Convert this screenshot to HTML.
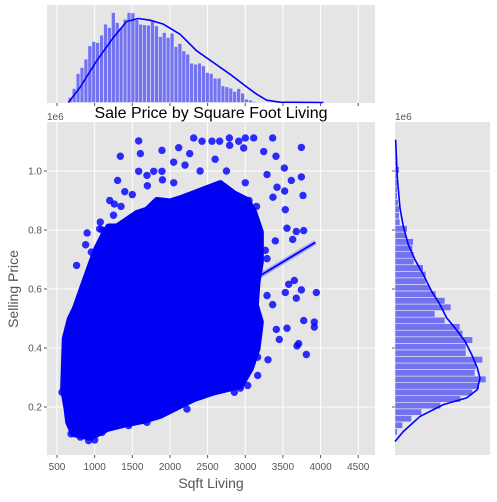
<!DOCTYPE html>
<html><head><meta charset="utf-8">
<style>
html,body{margin:0;padding:0;background:#fff;}
svg text{font-family:"Liberation Sans",sans-serif;}
</style></head>
<body>
<svg id="chart" width="497" height="497" xmlns="http://www.w3.org/2000/svg">
</svg>
<script>
// ---- data ----
const xTicks = [500,1000,1500,2000,2500,3000,3500,4000,4500];
const yTicks = [0.2,0.4,0.6,0.8,1.0];
const yTickLabels = ["0.2","0.4","0.6","0.8","1.0"];
// dense scatter region outline (sqft, price in millions)
const blobSqft = [610,677,743,854,965,1031,1120,1186,1297,1430,1562,1695,1828,2005,2138,2315,2492,2669,2846,3023,3112,3200,3200,3156,3134,3200,3156,3067,2935,2758,2581,2315,2138,1872,1651,1430,1164,943,721,655,633,588];
const blobPrice = [0.432,0.499,0.533,0.613,0.692,0.737,0.782,0.81,0.81,0.833,0.856,0.867,0.90,0.895,0.906,0.923,0.94,0.957,0.923,0.90,0.86,0.793,0.691,0.624,0.545,0.488,0.398,0.330,0.273,0.262,0.251,0.228,0.206,0.172,0.155,0.144,0.127,0.098,0.110,0.149,0.194,0.262];
// individual outlier points
const ptSqft = [1584,1341,1607,1894,2315,2426,2558,2660,2789,2913,3001,3112,3364,3745,2116,2262,2049,2793,2979,3245,3408,3519,3745,1305,1584,1894,1784,1695,3289,3612,3422,3523,3767,3368,1261,3532,3678,3776,3554,3630,3399,956,1075,1066,3267,3289,3652,3577,3745,3532,3678,3944,3289,3364,3776,3917,3917,3554,3412,3452,3687,3709,3811,3302,3165,3165,3032,2935,2855,566,686,810,920,1000,1097,1452,1695,2226,2400,2200,2600,1900,1700,1400,1200,900,3050,3150,3000,1500,1350,2050,2750,1250,1100,880,760];
const ptPrice = [1.102,1.05,1.059,1.07,1.112,1.101,1.101,1.101,1.112,1.101,1.112,1.112,1.112,1.08,1.079,1.059,1.03,1.087,1.078,1.066,1.05,1.01,0.98,0.968,0.999,0.999,0.999,0.985,0.988,0.968,0.945,0.932,0.917,0.911,0.888,0.869,0.795,0.798,0.806,0.768,0.763,0.725,0.827,0.804,0.731,0.703,0.629,0.616,0.597,0.588,0.569,0.588,0.578,0.547,0.493,0.488,0.471,0.467,0.463,0.429,0.407,0.415,0.378,0.36,0.369,0.307,0.273,0.264,0.25,0.25,0.109,0.098,0.086,0.088,0.114,0.137,0.148,0.193,1.0,1.02,1.04,0.97,0.95,0.93,0.9,0.79,0.9,0.88,0.96,0.92,0.88,0.96,1.0,0.85,0.80,0.75,0.68];
// regression line endpoints
const regSqft = [600,3931];
const regPrice = [0.247,0.758];
// top marginal histogram (sqft)
const topBinStart = 650, topBinWidth = 52;
const topCounts = [15,42,87,105,130,170,183,180,202,235,225,270,240,225,250,270,269,248,235,233,232,245,230,198,210,195,208,168,177,155,145,118,115,118,110,90,87,73,73,50,47,43,33,42,28,10,7,3,2,1,1,1];
const topKdeSqft = [650,805,1027,1248,1425,1580,1735,1912,2133,2354,2576,2797,3018,3151,3284,3461,4037];
const topKdeVal = [0,45,125,195,243,252,247,235,205,155,120,85,47,25,7,1,0];
// right marginal histogram (price)
const rightBinStart = 0.105, rightBinWidth = 0.0222;
const rightCounts = [7,23,50,80,137,197,233,253,273,240,243,263,213,213,233,203,195,150,120,168,150,123,105,93,93,85,57,57,53,55,33,37,15,13,13,10,7,7,7,5,13,5,5,3,2];
const rightKdePrice = [0.083,0.117,0.168,0.208,0.231,0.259,0.298,0.332,0.378,0.423,0.468,0.502,0.547,0.592,0.649,0.699,0.750,0.812,0.874,0.976,1.106];
const rightKdeVal = [0,25,75,145,215,247,255,247,230,210,180,155,135,110,85,60,40,25,15,7,2];

// ---- scales ----
const X0=47,X1=375,Y0=122,Y1=455;
const sx = s => 47 + (s-367)*0.0753;
const sy = p => 407 - (p-0.2)*295;
const th = h => 102.5 - h/3;
const rv = v => 395 + v/3;

const svg = document.getElementById('chart');
const NS='http://www.w3.org/2000/svg';
function mk(tag, attrs, parent){const e=document.createElementNS(NS,tag);for(const k in attrs)e.setAttribute(k,attrs[k]);(parent||svg).appendChild(e);return e;}

let bg = mk('rect',{x:X0,y:Y0,width:X1-X0,height:Y1-Y0,fill:'#e5e5e5'});


let tbg = mk('rect',{x:X0,y:5,width:X1-X0,height:98,fill:'#e5e5e5'});


let rbg = mk('rect',{x:395,y:Y0,width:95,height:Y1-Y0,fill:'#e5e5e5'});



xTicks.forEach(t=>{
  const x=sx(t);
  mk('line',{x1:x,x2:x,y1:Y0,y2:Y1,stroke:'#fff','stroke-width':1});
  mk('line',{x1:x,x2:x,y1:5,y2:103,stroke:'#fff','stroke-width':1});
  mk('line',{x1:x,x2:x,y1:Y1,y2:Y1+3,stroke:'#555'});
  mk('line',{x1:x,x2:x,y1:103,y2:106,stroke:'#555'});
  const tx=mk('text',{x:x,y:470,'font-size':10,fill:'#555','text-anchor':'middle'});
  tx.textContent=t;
  
  
});
yTicks.forEach((t,i)=>{
  const y=sy(t);
  mk('line',{x1:X0,x2:X1,y1:y,y2:y,stroke:'#fff','stroke-width':1});
  mk('line',{x1:395,x2:490,y1:y,y2:y,stroke:'#fff','stroke-width':1});
  mk('line',{x1:X0-3,x2:X0,y1:y,y2:y,stroke:'#555'});
  mk('line',{x1:392,x2:395,y1:y,y2:y,stroke:'#555'});
  const tx=mk('text',{x:42,y:y+3.5,'font-size':10,fill:'#555','text-anchor':'end'});
  tx.textContent=yTickLabels[i];
  
  
});

// scatter blob
let blob=mk('polygon',{points:blobSqft.map((s,i)=>sx(s)+','+sy(blobPrice[i])).join(' '),fill:'#0000f2',stroke:'#0000f2','stroke-width':7,'stroke-linejoin':'round'});


ptSqft.forEach((s,i)=>{
  const c=mk('circle',{cx:sx(s),cy:sy(ptPrice[i]),r:3.7,fill:'#0000ff','fill-opacity':0.82});
  
  
});
let band=mk('line',{x1:sx(regSqft[0]),y1:sy(regPrice[0]),x2:sx(regSqft[1]),y2:sy(regPrice[1]),stroke:'#0000ff','stroke-opacity':0.25,'stroke-width':5});


let reg=mk('line',{x1:sx(regSqft[0]),y1:sy(regPrice[0]),x2:sx(regSqft[1]),y2:sy(regPrice[1]),stroke:'#0000ff','stroke-width':1.8});



topCounts.forEach((c,i)=>{
  const x0=sx(topBinStart+i*topBinWidth), x1=sx(topBinStart+(i+1)*topBinWidth);
  const r=mk('rect',{x:x0,y:th(c),width:x1-x0,height:102.5-th(c),fill:'#7373f0',stroke:'#e8e8f8','stroke-width':0.6});
  
  
});
let tk=mk('polyline',{points:topKdeSqft.map((s,i)=>sx(s)+','+th(topKdeVal[i])).join(' '),fill:'none',stroke:'#0000ff','stroke-width':1.6,'stroke-linejoin':'round'});



rightCounts.forEach((c,i)=>{
  const y0=sy(rightBinStart+(i+1)*rightBinWidth), y1=sy(rightBinStart+i*rightBinWidth);
  const r=mk('rect',{x:395,y:y0,width:rv(c)-395,height:y1-y0,fill:'#7373f0',stroke:'#e8e8f8','stroke-width':0.6});
  
  
});
let rk=mk('polyline',{points:rightKdePrice.map((p,i)=>rv(rightKdeVal[i])+','+sy(p)).join(' '),fill:'none',stroke:'#0000ff','stroke-width':1.6,'stroke-linejoin':'round'});


</script>
<svg width="497" height="497" style="position:absolute;left:0;top:0" xmlns="http://www.w3.org/2000/svg">
  <text x="211" y="118" font-size="16" fill="#000" text-anchor="middle" font-family="Liberation Sans, sans-serif">Sale Price by Square Foot Living</text>
  <text x="47" y="120" font-size="10" fill="#555" font-family="Liberation Sans, sans-serif">1e6</text>
  <text x="395" y="120" font-size="10" fill="#555" font-family="Liberation Sans, sans-serif">1e6</text>
  <text x="211" y="488" font-size="14" fill="#555" text-anchor="middle" font-family="Liberation Sans, sans-serif">Sqft Living</text>
  <text x="18" y="289" font-size="14" fill="#555" text-anchor="middle" transform="rotate(-90 18 289)" font-family="Liberation Sans, sans-serif">Selling Price</text>
</svg>
</body></html>
